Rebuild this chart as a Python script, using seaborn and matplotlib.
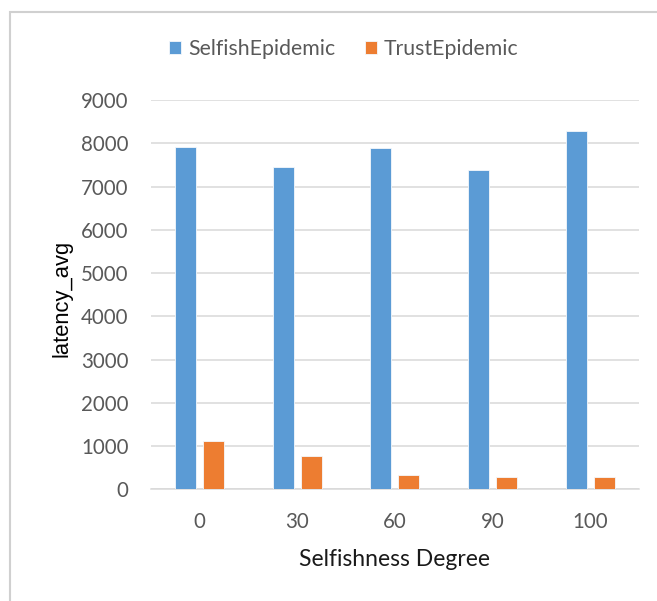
import matplotlib
matplotlib.use("Agg")
import matplotlib.pyplot as plt
from matplotlib.patches import Rectangle
import pandas as pd
import seaborn as sns

degrees = ["0", "30", "60", "90", "100"]
selfish_epidemic = [7920, 7460, 7890, 7390, 8290]
trust_epidemic = [1110, 760, 320, 290, 290]
series_names = ["SelfishEpidemic", "TrustEpidemic"]
y_ticks = [0, 1000, 2000, 3000, 4000, 5000, 6000, 7000, 8000, 9000]

df = pd.DataFrame({
    "degree": degrees * 2,
    "latency": selfish_epidemic + trust_epidemic,
    "series": [series_names[0]] * len(degrees) + [series_names[1]] * len(degrees),
})

sns.set_theme(style="white")
plt.rcParams["font.family"] = ["Lato", "DejaVu Sans"]

fig = plt.figure(figsize=(6.57, 6.01), dpi=100)
ax = fig.add_axes([0.2295, 0.1859, 0.7431, 0.6477])

palette = {"SelfishEpidemic": "#5B9BD5", "TrustEpidemic": "#ED7D31"}
sns.barplot(data=df, x="degree", y="latency", hue="series", order=degrees,
            hue_order=series_names, palette=palette, width=0.575, gap=0.25,
            saturation=1, edgecolor="#f4f8fc", linewidth=0.6, ax=ax, zorder=3)

ax.set_ylim(0, 9000)
ax.set_yticks(y_ticks)
ax.set_yticklabels([str(t) for t in y_ticks])
ax.yaxis.grid(True, color="#d9d9d9", linewidth=1.1, zorder=0)
ax.set_axisbelow(True)
for side in ["top", "right", "left"]:
    ax.spines[side].set_visible(False)
ax.spines["bottom"].set_color("#d9d9d9")
ax.spines["bottom"].set_linewidth(1.1)
ax.tick_params(axis="both", length=0, labelsize=14.8, colors="#595959")
ax.tick_params(axis="y", pad=16)
ax.tick_params(axis="x", pad=16.5)

ax.set_xlabel("Selfishness Degree", fontsize=16.5, color="#1a1a1a", labelpad=12)
ax.set_ylabel("latency_avg", fontsize=15.8, color="#000000",
              family=["Liberation Sans", "DejaVu Sans"])
ax.yaxis.set_label_coords(-0.161, 0.49)

handles, labels = ax.get_legend_handles_labels()
ax.legend_.remove()
fig.legend(handles, labels, loc="center", bbox_to_anchor=(0.523, 0.918),
           ncol=2, frameon=False, fontsize=15.3, labelcolor="#595959",
           handlelength=0.57, handleheight=0.57, handletextpad=0.3,
           columnspacing=1.4)

# chart frame
fig.patches.append(Rectangle((10 / 657, -0.1), 1.2, 1 - 12 / 601 + 0.1,
                             transform=fig.transFigure, fill=False,
                             edgecolor="#d0d0d0", linewidth=1.5))

fig.savefig("out.png", dpi=100)
